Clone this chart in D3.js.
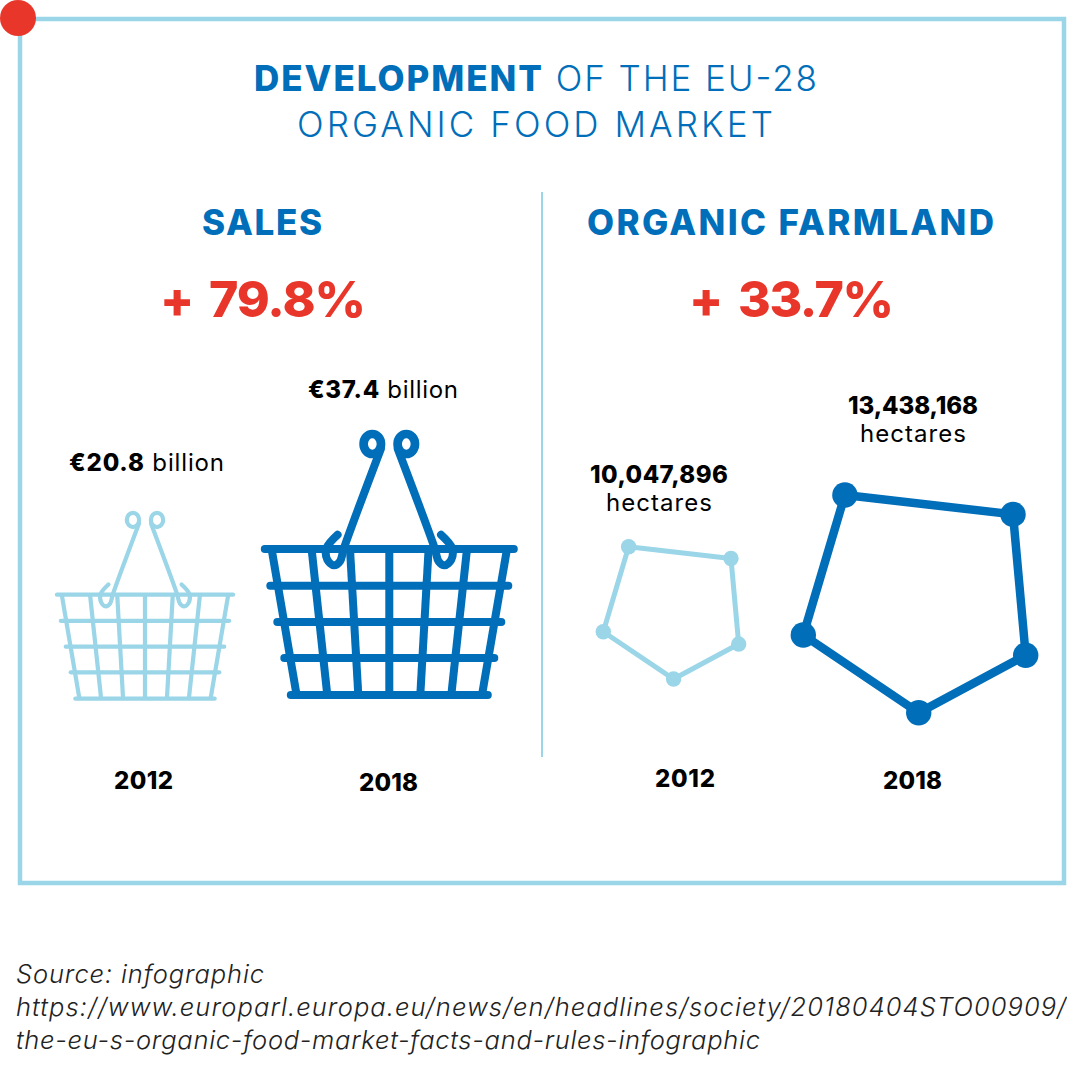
<!DOCTYPE html>
<html>
<head>
<meta charset="utf-8">
<script src="https://cdn.jsdelivr.net/npm/d3@7"></script>
<style>
html, body { margin: 0; padding: 0; background: #fff; }
svg { display: block; }
text { font-family: Inter, "Open Sans", sans-serif; }
</style>
</head>
<body>
<div id="app"></div>
<script>
//////////////////////////// data /////////////////////////////////////////

const years = [2012, 2018];
const salesBillion = [20.8, 37.4];
const farmlandHectares = [10047896, 13438168];
const salesChange = "79.8%";
const farmlandChange = "33.7%";
const titleLines = ["DEVELOPMENT", " OF THE EU-28", "ORGANIC FOOD MARKET"];
const panelTitles = ["SALES", "ORGANIC FARMLAND"];
const sourceLines = [
	"Source: infographic",
	"https://www.europarl.europa.eu/news/en/headlines/society/20180404STO00909/",
	"the-eu-s-organic-food-market-facts-and-rules-infographic"
];

//////////////////////////// colors ///////////////////////////////////////

const blue = "#006eb9";
const light = "#9ad5e8";
const red = "#e9362a";

//////////////////////////// icon shapes //////////////////////////////////

// basket drawn in its own units, 0,0 = middle of the rim
const rimHalf = 124.5;
const rows = [[36.7, 119], [73, 112], [109, 105], [146, 98.5]];
const ribs = [[117.7, 92.7], [77.7, 62], [39.3, 31], [0, 0], [-39.3, -31], [-77.7, -62], [-117.7, -92.7]];
const handle = [[-8.5, -100], [-45.3, -1], [-49.3, 12.3], [-55.3, 16.3], [-62, 10.7], [-62.7, -1], [-51.7, -14.3]];

// pentagon in 0..1 box
const pentagon = [[0.187, 0], [0.943, 0.089], [1, 0.736], [0.519, 1], [0, 0.643]];

//////////////////////////// set up svg ///////////////////////////////////

const width = 1067;
const height = 1076;

const svg = d3.select("#app").append("svg").attr("width", width).attr("height", height);

// frame
svg.append("rect")
	.attr("x", 20).attr("y", 19)
	.attr("width", 1044).attr("height", 864)
	.attr("fill", "none").attr("stroke", light).attr("stroke-width", 4.5);

svg.append("circle").attr("cx", 18).attr("cy", 18).attr("r", 18).attr("fill", red);

svg.append("line")
	.attr("x1", 542).attr("x2", 542).attr("y1", 192).attr("y2", 757)
	.attr("stroke", light).attr("stroke-width", 2);

//////////////////////////// text /////////////////////////////////////////

const fmtBillion = (v) => "€" + d3.format(".1f")(v);
const fmtHa = d3.format(",");

// x0, x1 are the measured ends of each line, textLength fits the font to them
const label = (parts, x0, x1, y, size, color, extra) => {
	const t = svg.append("text")
		.attr("x", x0).attr("y", y)
		.attr("font-size", size)
		.attr("fill", color)
		.attr("textLength", x1 - x0)
		.attr("lengthAdjust", "spacing");
	parts.forEach((p) => {
		t.append("tspan")
			.attr("font-weight", p.w)
			.style("white-space", "pre")
			.text(p.s);
	});
	if (extra) t.attr("font-style", extra);
};

label([{ s: titleLines[0], w: 800 }, { s: titleLines[1], w: 300 }], 254, 817, 90.5, 35, blue);
label([{ s: titleLines[2], w: 300 }], 297, 773, 136.5, 35, blue);

label([{ s: panelTitles[0], w: 800 }], 202, 322, 235, 35, blue);
label([{ s: panelTitles[1], w: 800 }], 587, 994, 235, 35, blue);

label([{ s: "+", w: 800 }], 160, 190, 317, 50, red);
label([{ s: salesChange, w: 800 }], 209, 366, 317, 50, red);
label([{ s: "+", w: 800 }], 689, 719, 317, 50, red);
label([{ s: farmlandChange, w: 800 }], 738, 894, 317, 50, red);

label([{ s: fmtBillion(salesBillion[0]), w: 800 }, { s: " billion", w: 400 }], 69, 224, 471, 24, "#000");
label([{ s: fmtBillion(salesBillion[1]), w: 800 }, { s: " billion", w: 400 }], 308, 458, 398, 24, "#000");

label([{ s: fmtHa(farmlandHectares[0]), w: 800 }], 590, 728, 483, 24, "#000");
label([{ s: "hectares", w: 400 }], 606, 712, 511, 24, "#000");
label([{ s: fmtHa(farmlandHectares[1]), w: 800 }], 848, 978, 414, 24, "#000");
label([{ s: "hectares", w: 400 }], 860, 966, 442, 24, "#000");

label([{ s: String(years[0]), w: 800 }], 114, 173, 789, 24, "#000");
label([{ s: String(years[1]), w: 800 }], 359, 418, 791, 24, "#000");
label([{ s: String(years[0]), w: 800 }], 655, 715, 787, 24, "#000");
label([{ s: String(years[1]), w: 800 }], 883, 942, 789, 24, "#000");

label([{ s: sourceLines[0], w: 300 }], 16, 264, 983, 25.5, "#222", "italic");
label([{ s: sourceLines[1], w: 300 }], 16, 1066, 1016, 25.5, "#222", "italic");
label([{ s: sourceLines[2], w: 300 }], 16, 760, 1049, 25.5, "#222", "italic");

//////////////////////////// baskets //////////////////////////////////////

const drawBasket = (cfg) => {
	const x = d3.scaleLinear().domain([-128.5, 128.5]).range([cfg.cx - cfg.halfW, cfg.cx + cfg.halfW]);
	const y = d3.scaleLinear().domain([0, 146]).range([cfg.top, cfg.bottom]);
	const g = svg.append("g")
		.attr("fill", "none")
		.attr("stroke", cfg.color)
		.attr("stroke-width", cfg.stroke)
		.attr("stroke-linecap", "round")
		.attr("stroke-linejoin", "round");

	// rim and rows
	g.selectAll(".row")
		.data([[0, rimHalf]].concat(rows))
		.join("line")
		.attr("class", "row")
		.attr("x1", (d) => x(-d[1]))
		.attr("x2", (d) => x(d[1]))
		.attr("y1", (d) => y(d[0]))
		.attr("y2", (d) => y(d[0]));

	// ribs
	g.selectAll(".rib")
		.data(ribs)
		.join("line")
		.attr("class", "rib")
		.attr("stroke-linecap", "butt")
		.attr("x1", (d) => x(d[0]))
		.attr("x2", (d) => x(d[1]))
		.attr("y1", y(0))
		.attr("y2", y(146));

	// handles, right one is the mirror of the left one
	const hookLine = d3.line().curve(d3.curveCatmullRom.alpha(0.5));
	[1, -1].forEach((side) => {
		g.append("path").attr("d", hookLine(handle.map((d) => [x(d[0] * side), y(d[1])])));
		g.append("ellipse")
			.attr("cx", x(-17 * side))
			.attr("cy", y(-105))
			.attr("rx", x(8.7) - x(0))
			.attr("ry", y(10) - y(0))
			.attr("stroke-width", cfg.ring);
	});
};

drawBasket({ cx: 145, halfW: 90.9, top: 594.7, bottom: 698.7, color: light, stroke: 4.2, ring: 4.2 });
drawBasket({ cx: 389.3, halfW: 128.5, top: 549, bottom: 695, color: blue, stroke: 8, ring: 8.7 });

//////////////////////////// pentagons ////////////////////////////////////

const drawPentagon = (cfg) => {
	const x = d3.scaleLinear().domain([0, 1]).range(cfg.xRange);
	const y = d3.scaleLinear().domain([0, 1]).range(cfg.yRange);
	const g = svg.append("g");
	g.append("path")
		.attr("d", d3.line().x((d) => x(d[0])).y((d) => y(d[1])).curve(d3.curveLinearClosed)(pentagon))
		.attr("fill", "none")
		.attr("stroke", cfg.color)
		.attr("stroke-width", cfg.stroke);
	g.selectAll("circle")
		.data(pentagon)
		.join("circle")
		.attr("cx", (d) => x(d[0]))
		.attr("cy", (d) => y(d[1]))
		.attr("r", cfg.r)
		.attr("fill", cfg.color);
};

drawPentagon({ xRange: [603.3, 738.7], yRange: [546.7, 679], color: light, stroke: 5, r: 7.7 });
drawPentagon({ xRange: [803.3, 1025.7], yRange: [495, 712.7], color: blue, stroke: 8.5, r: 12.7 });
</script>
</body>
</html>
